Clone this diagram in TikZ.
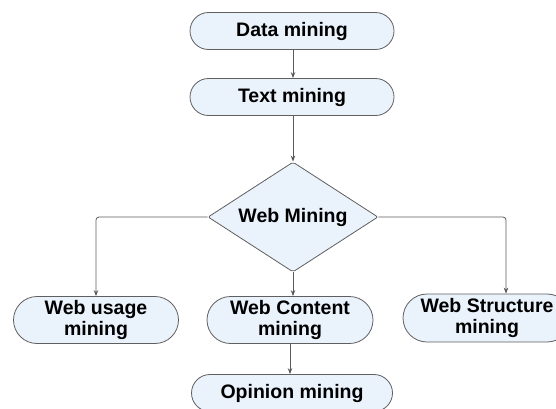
\documentclass[tikz,border=0pt]{standalone}
\usepackage{fontspec}
\setmainfont{Liberation Sans}
\usetikzlibrary{shapes.geometric,shapes.misc,arrows.meta}
\definecolor{boxfill}{RGB}{234,242,252}
\definecolor{boxline}{RGB}{95,95,95}
\definecolor{flowline}{RGB}{90,90,90}
\tikzset{
  term/.style={rounded rectangle, draw=boxline, fill=boxfill, line width=0.8pt,
    inner sep=0pt, align=center, font=\fontsize{19.5}{21}\selectfont\bfseries},
  decision/.style={diamond, draw=boxline, fill=boxfill, line width=0.8pt,
    rounded corners=2pt, inner sep=0pt, aspect=1.55,
    minimum width=170pt, minimum height=110pt,
    font=\fontsize{19.5}{21}\selectfont\bfseries},
  flow/.style={draw=flowline, line width=0.8pt, rounded corners=3pt,
    -{Stealth[length=6pt,width=4.5pt]}}
}

\begin{document}
\begin{tikzpicture}[x=1pt, y=-1pt]
            \useasboundingbox (0,0) rectangle (556,408);

            % Define nodes
            \node[term, minimum width=204pt, minimum height=37pt] (data) at (292,31) {Data mining};
            \node[term, minimum width=204pt, minimum height=37pt] (text) at (292,97) {Text mining};
            \node[decision] (web) at (293,217) {Web Mining};
            \node[term, minimum width=165pt, minimum height=47pt] (usage) at (96,320) {Web usage\\mining};
            \node[term, minimum width=166pt, minimum height=47pt] (content) at (290,320) {Web Content\\mining};
            \node[term, minimum width=168pt, minimum height=48pt] (struct) at (487,318) {Web Structure\\mining};
            \node[term, minimum width=201pt, minimum height=37pt] (opinion) at (292,393) {Opinion mining};

            % Connect the nodes
            \draw[flow] (data.south -| web) -- (text.north -| web);
            \draw[flow] (text.south -| web) -- (web.north);
            \draw[flow] (web.west) -| (usage.north);
            \draw[flow] (web.south) -- (web.south |- content.north);
            \draw[flow] (web.east) -| ([xshift=19pt]struct.north);
            \draw[flow] (content.south) -- (content.south |- opinion.north);
\end{tikzpicture}
\end{document}
